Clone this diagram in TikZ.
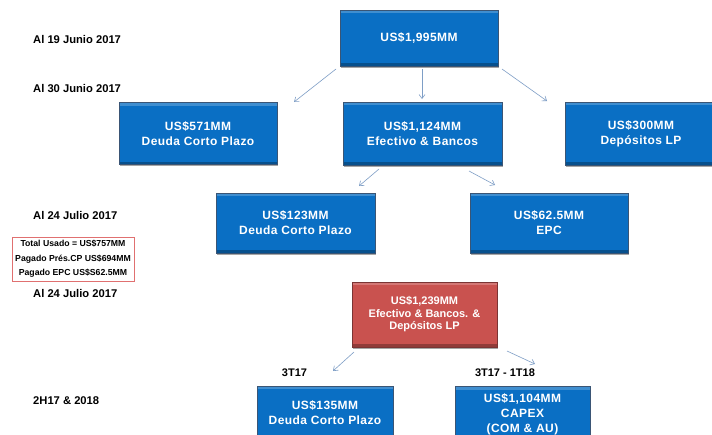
\documentclass[tikz,border=0pt]{standalone}
\usepackage{fontspec}
\setmainfont{Liberation Sans}
\newfontfamily\boxfont[LetterSpace=3.5]{Liberation Sans}
\usetikzlibrary{arrows.meta,shadows}
\definecolor{boxblue}{HTML}{0A6FC4}
\definecolor{boxedge}{HTML}{3A5575}
\definecolor{boxred}{HTML}{C9524F}
\definecolor{rededge}{HTML}{7A3434}
\definecolor{arrowc}{HTML}{7E9EC6}
\definecolor{notered}{HTML}{E07070}
\tikzset{
  bevel/.style={path picture={
    \fill[white,opacity=.22] (path picture bounding box.north west) rectangle ([yshift=-3pt]path picture bounding box.north east);
    \fill[black,opacity=.28] (path picture bounding box.south west) rectangle ([yshift=3pt]path picture bounding box.south east);
  }},
  bluebox/.style={draw=boxedge, line width=0.9pt, fill=boxblue, text=white, align=center,
    inner sep=0pt, bevel, drop shadow={shadow xshift=1pt, shadow yshift=-1.5pt, opacity=.35, fill=black},
    font=\boxfont\fontsize{12}{15}\selectfont\bfseries},
  redbox/.style={bluebox, fill=boxred, draw=rededge, font=\fontsize{11}{12.5}\selectfont\bfseries},
  datelbl/.style={anchor=west, inner sep=0pt, font=\fontsize{11.2}{13}\selectfont\bfseries},
  perlbl/.style={inner sep=0pt, font=\fontsize{11}{13}\selectfont\bfseries},
  notebox/.style={draw=notered, line width=0.8pt, align=center, inner sep=0pt,
    font=\fontsize{8.7}{14.5}\selectfont\bfseries},
  arr/.style={draw=arrowc, line width=0.6pt, -{Straight Barb[length=4pt,width=6pt,line width=0.6pt]}}
}
\begin{document}
\begin{tikzpicture}[x=1pt,y=-1pt]
\useasboundingbox[fill=white] (0,0) rectangle (712,434);
\clip (0,0) rectangle (712,434);

% date labels
\node[datelbl] (d1) at (33,39) {Al 19 Junio 2017};
\node[datelbl] (d2) at (33,89) {Al 30 Junio 2017};
\node[datelbl] (d3) at (33,215) {Al 24 Julio 2017};
\node[datelbl] (d4) at (33,293) {Al 24 Julio 2017};
\node[datelbl] (d5) at (33,401) {2H17 \& 2018};

% period labels
\node[perlbl] (p1) at (294.5,373) {3T17};
\node[perlbl] (p2) at (505,373) {3T17 - 1T18};

% note box
\node[notebox, minimum width=122pt, minimum height=44pt] (note) at (73,259)
  {Total Usado = US\$757MM\\Pagado Prés.CP US\$694MM\\Pagado EPC US\$S62.5MM};

% boxes
\node[bluebox, minimum width=158pt, minimum height=56pt] (b1995) at (419,38) {US\$1,995MM};
\node[bluebox, minimum width=158pt, minimum height=62pt] (b571) at (198,133.5) {US\$571MM\\Deuda Corto Plazo};
\node[bluebox, minimum width=159pt, minimum height=63pt] (b1124) at (422.5,133.5) {US\$1,124MM\\Efectivo \& Bancos};
\node[bluebox, minimum width=152pt, minimum height=63pt] (b300) at (641,133.5) {US\$300MM\\Depósitos LP};
\node[bluebox, minimum width=159pt, minimum height=60pt] (b123) at (295.5,223) {US\$123MM\\Deuda Corto Plazo};
\node[bluebox, minimum width=158pt, minimum height=60pt] (bepc) at (549,223) {US\$62.5MM\\EPC};
\node[redbox, minimum width=145pt, minimum height=65pt] (b1239) at (424.5,314.5) {US\$1,239MM\\Efectivo \& Bancos. \&\\Depósitos LP};
\node[bluebox, minimum width=136pt, minimum height=54pt] (b135) at (325,413) {US\$135MM\\Deuda Corto Plazo};
\node[bluebox, minimum width=135pt, minimum height=56pt] (bcapex) at (522.5,414.5) {US\$1,104MM\\CAPEX\\(COM \& AU)};

% arrow ends
\coordinate (a1s) at (336,69);  \coordinate (a1e) at (294,102);
\coordinate (a2s) at (422,69);  \coordinate (a2e) at (422,99);
\coordinate (a3s) at (502,69);  \coordinate (a3e) at (547,101);
\coordinate (a4s) at (379,169); \coordinate (a4e) at (359,186);
\coordinate (a5s) at (469,171); \coordinate (a5e) at (495,185);
\coordinate (a6s) at (354,352); \coordinate (a6e) at (333,371);
\coordinate (a7s) at (507,351); \coordinate (a7e) at (535,364);

\draw[arr] (a1s) -- (a1e);
\draw[arr] (a2s) -- (a2e);
\draw[arr] (a3s) -- (a3e);
\draw[arr] (a4s) -- (a4e);
\draw[arr] (a5s) -- (a5e);
\draw[arr] (a6s) -- (a6e);
\draw[arr] (a7s) -- (a7e);
\end{tikzpicture}
\end{document}
